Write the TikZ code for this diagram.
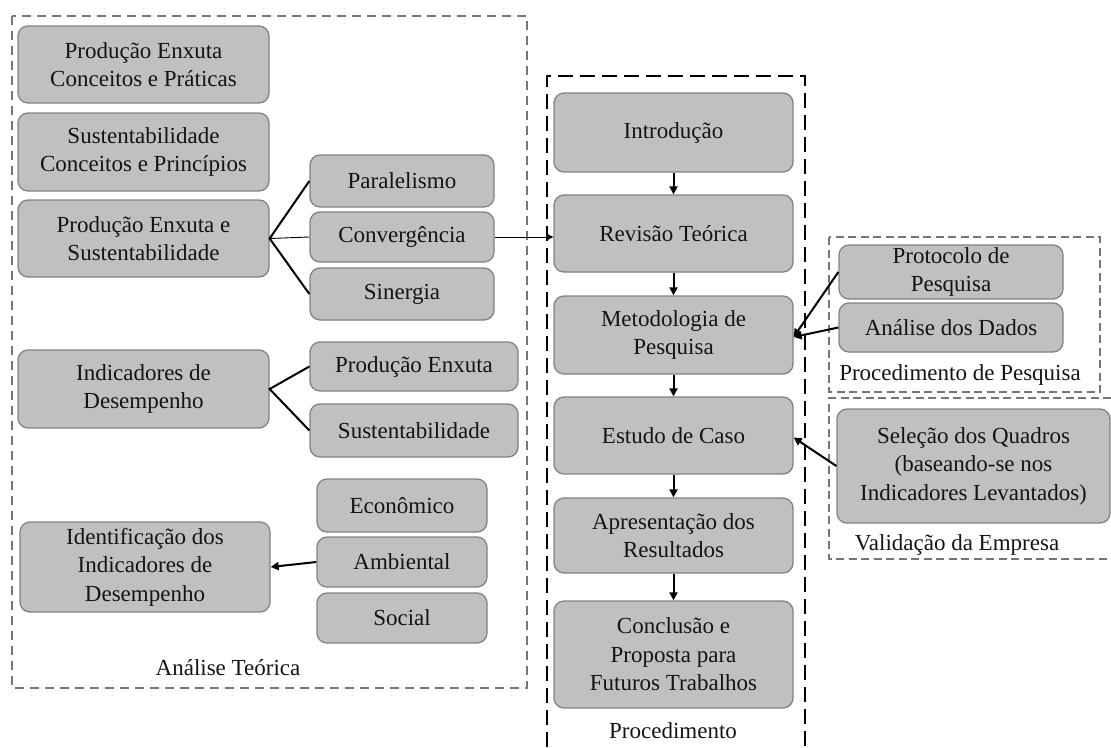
\documentclass[tikz,border=0pt]{standalone}
\usepackage{fontspec}
\setmainfont{Liberation Serif}
\usetikzlibrary{arrows.meta}
\definecolor{boxfill}{RGB}{192,192,192}
\definecolor{boxline}{RGB}{130,130,130}
\definecolor{framegray}{RGB}{118,118,118}
\definecolor{ink}{RGB}{20,20,20}
% rounded grey box given by its corners (x1,y1,x2,y2)
\newcommand\gbox[6]{%
  \node[blk,minimum width={(#4)-(#2)},minimum height={(#5)-(#3)}]
    (#1) at ({((#2)+(#4))/2},{((#3)+(#5))/2}) {#6};}
\begin{document}
\begin{tikzpicture}[x=1pt,y=-1pt,
  blk/.style={draw=boxline,line width=1.3pt,fill=boxfill,rounded corners=10pt,
    align=center,text=ink,inner sep=0pt,
    font=\fontsize{23}{28.5}\selectfont},
  lbl/.style={text=ink,inner sep=0pt,font=\fontsize{23}{28}\selectfont},
  grayframe/.style={draw=framegray,line width=2.4pt,dash pattern=on 9pt off 6pt},
  blackframe/.style={draw=black,line width=2.8pt,dash pattern=on 15pt off 7pt},
  sideframe/.style={draw=framegray,line width=2pt,dash pattern=on 8pt off 4.5pt},
  branch/.style={draw=black,line width=2pt},
  arr/.style={draw=black,line width=2pt,-{Triangle[length=8pt,width=8pt]}},
  thinarr/.style={draw=black,line width=0.9pt,-{Triangle[length=6pt,width=6pt]}}]
\useasboundingbox (0,0) rectangle (1111,747);

% group frames
\draw[grayframe] (12,16) rectangle (527,688);
\draw[blackframe] (547,747) -- (547,76) -- (805,76) -- (805,747);
\draw[sideframe] (829,237) rectangle (1100,392);
\draw[sideframe] (1111,398) -- (829,398) -- (829,559) -- (1111,559);

% theoretical analysis column
\gbox{pec}{18}{26}{269}{103}{Produção Enxuta\\Conceitos e Práticas}
\gbox{scp}{18}{113}{269}{191}{Sustentabilidade\\Conceitos e Princípios}
\gbox{pes}{18}{200}{269}{277}{Produção Enxuta e\\Sustentabilidade}
\gbox{par}{310}{155}{494}{207}{Paralelismo}
\gbox{con}{310}{212}{494}{262}{Convergência}
\gbox{sin}{310}{268}{494}{320}{Sinergia}
\gbox{ind}{18}{350}{269}{428}{Indicadores de\\Desempenho}
\gbox{pe2}{310}{342}{518}{391}{Produção Enxuta}
\gbox{sus}{310}{404}{518}{457}{Sustentabilidade}
\gbox{eco}{317}{479}{487}{532}{Econômico}
\gbox{amb}{317}{537}{487}{587}{Ambiental}
\gbox{soc}{317}{593}{487}{643}{Social}
\gbox{idt}{20}{522}{270}{612}{Identificação dos\\Indicadores de\\Desempenho}
\node[lbl] (lat) at (228,668) {Análise Teórica};

% procedure column
\gbox{intro}{554}{93}{793}{172}{Introdução}
\gbox{rev}{554}{195}{793}{272}{Revisão Teórica}
\gbox{met}{554}{296}{793}{374}{Metodologia de\\Pesquisa}
\gbox{est}{554}{397}{793}{474}{Estudo de Caso}
\gbox{apr}{554}{498}{793}{573}{Apresentação dos\\Resultados}
\gbox{conc}{554}{601}{793}{708}{Conclusão e\\Proposta para\\Futuros Trabalhos}
\node[lbl] (lproc) at (673,731) {Procedimento};

% research procedure and company validation
\gbox{prot}{839}{245}{1063}{299}{Protocolo de\\Pesquisa}
\gbox{anal}{839}{303}{1063}{352}{Análise dos Dados}
\node[lbl] (lpp) at (960,375) {Procedimento de Pesquisa};
\gbox{sel}{837}{409}{1110}{523}{Seleção dos Quadros\\(baseando-se nos\\Indicadores Levantados)}
\node[lbl] (lval) at (957,545) {Validação da Empresa};

% connectors
\draw[branch] (par.west) -- (pes.east) -- (sin.west);
\draw[line width=0.9pt] (pes.east) -- (con.west);
\draw[thinarr] (con.east) -- (con.east -| rev.west);
\draw[branch] (pe2.west) -- (ind.east) -- (sus.west);
\draw[arr] (amb.west) -- (idt.east);

\draw[arr] (intro) -- (rev);
\draw[arr] (rev) -- (met);
\draw[arr] (met) -- (est);
\draw[arr] (est) -- (apr);
\draw[arr] (apr) -- (conc);

\coordinate (mtip) at ([yshift=-2pt]met.east);
\draw[arr] (prot.west) -- (mtip);
\draw[arr] (anal.west) -- (mtip);
\draw[arr] (sel.west) -- ([yshift=-2pt]est.east);
\end{tikzpicture}
\end{document}
